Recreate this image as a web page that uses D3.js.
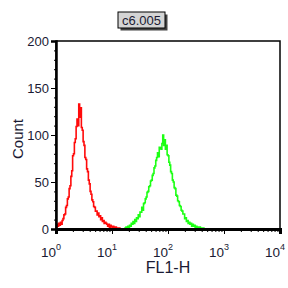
<!DOCTYPE html>
<html>
<head>
<meta charset="utf-8">
<script src="https://cdn.jsdelivr.net/npm/d3@7"></script>
<style>
  body { margin: 0; background: #fff; }
  svg { display: block; font-family: "Liberation Sans", Arial, sans-serif; }
</style>
</head>
<body>
<div id="chart"></div>
<script>

// Histogram data (256 channels over 4 decades)
var channelsPerDecade = 64;

var redStart = 0;
var redCounts = [2, 5, 3, 6, 4, 7, 5, 9, 11, 15, 16, 23, 25, 32, 34, 43, 46, 56, 62, 78,
  80, 92, 96, 109, 117, 110, 133, 119, 129, 108, 105, 93, 89, 76, 74, 64, 61, 52, 48, 40,
  37, 31, 29, 24, 23, 19, 19, 15, 17, 13, 14, 10, 12, 8, 9, 6, 7, 6, 5, 3,
  5, 2, 4, 3, 1, 3, 2, 1, 2, 0, 1, 0, 1, 0];

var greenStart = 78;
var greenCounts = [1, 0, 2, 1, 3, 1, 4, 3, 6, 5, 8, 6, 10, 8, 12, 11, 15, 13, 18, 18,
  23, 20, 27, 28, 32, 34, 39, 40, 45, 46, 51, 52, 57, 59, 65, 67, 73, 76, 81, 77,
  87, 86, 85, 91, 100, 89, 95, 85, 89, 79, 78, 71, 68, 61, 59, 52, 50, 44, 43, 36,
  35, 30, 29, 25, 24, 20, 19, 16, 16, 11, 12, 8, 9, 6, 7, 5, 6, 3, 5, 3,
  4, 2, 3, 2, 2, 1, 2, 0, 1, 0, 1, 0, 1];

var yTicks = [0, 50, 100, 150, 200];
var xTicks = [1, 10, 100, 1000, 10000];
var xTickExp = ["0", "1", "2", "3", "4"];

var title = "c6.005";
var xLabel = "FL1-H";
var yLabel = "Count";

var W = 288, H = 288;
var margin = {top: 41, right: 8, bottom: 59, left: 56};
var width = W - margin.left - margin.right;
var height = H - margin.top - margin.bottom;

var svg = d3.select("#chart").append("svg")
  .attr("width", W)
  .attr("height", H);

var g = svg.append("g")
  .attr("transform", "translate(" + margin.left + "," + margin.top + ")");

var x = d3.scaleLog().domain([1, 10000]).range([0, width]);
var y = d3.scaleLinear().domain([0, 200]).range([height, 0]);

function toPoints(start, counts){
  return counts.map(function(c, i){
    return {v: Math.pow(10, (start + i) / channelsPerDecade), c: c};
  });
}

var line = d3.line()
  .x(function(d){ return x(d.v); })
  .y(function(d){ return y(d.c); })
  .curve(d3.curveStepAfter);

g.append("path")
  .datum(toPoints(greenStart, greenCounts))
  .attr("fill", "none")
  .attr("stroke", "#1cff14")
  .attr("stroke-width", 1.6)
  .attr("d", line);

g.append("path")
  .datum(toPoints(redStart, redCounts))
  .attr("fill", "none")
  .attr("stroke", "#ff0a0a")
  .attr("stroke-width", 1.6)
  .attr("d", line);

// frame
g.append("rect")
  .attr("x", 0).attr("y", 0)
  .attr("width", width).attr("height", height)
  .attr("fill", "none")
  .attr("stroke", "#000")
  .attr("stroke-width", 1.5);

// minor y ticks
var yMinor = d3.range(0, 201, 10);
g.append("g")
  .call(d3.axisLeft(y).tickValues(yMinor).tickSize(2).tickFormat(""))
  .call(function(s){ s.select(".domain").remove(); });

// y axis
var yAxis = g.append("g")
  .call(d3.axisLeft(y).tickValues(yTicks).tickSize(5).tickPadding(2));
yAxis.select(".domain").attr("stroke-width", 2.5);
yAxis.selectAll("text")
  .attr("font-size", 13)
  .attr("fill", "#1a1a33")
  .attr("font-family", "Liberation Sans, Arial, sans-serif");

// minor x ticks
var xMinor = [];
xTicks.slice(0, 4).forEach(function(t){
  for (var k = 2; k < 10; k++) xMinor.push(t * k);
});
g.append("g")
  .attr("transform", "translate(0," + height + ")")
  .call(d3.axisBottom(x).tickValues(xMinor).tickSize(3).tickFormat(""))
  .call(function(s){ s.select(".domain").remove(); });

var xAxis = g.append("g")
  .attr("transform", "translate(0," + height + ")")
  .call(d3.axisBottom(x).tickValues(xTicks).tickSize(5).tickFormat(""));
xAxis.select(".domain").attr("stroke-width", 3);

// x tick labels with superscripts
xTicks.forEach(function(t, i){
  var lab = g.append("text")
    .attr("x", x(t) - 5)
    .attr("y", height + 28)
    .attr("text-anchor", "middle")
    .attr("font-size", 13.5)
    .attr("fill", "#1a1a33");
  lab.append("tspan").text("10");
  lab.append("tspan")
    .attr("font-size", 9)
    .attr("dy", -7)
    .text(xTickExp[i]);
});

// axis titles
svg.append("text")
  .attr("x", margin.left + width / 2)
  .attr("y", 273)
  .attr("text-anchor", "middle")
  .attr("font-size", 16)
  .attr("fill", "#1a1a33")
  .text(xLabel);

svg.append("text")
  .attr("transform", "translate(23,139) rotate(-90)")
  .attr("text-anchor", "middle")
  .attr("font-size", 15)
  .attr("fill", "#1a1a33")
  .text(yLabel);

// title box with shadow
var tb = svg.append("g").attr("transform", "translate(118,12)");
tb.append("rect")
  .attr("x", 2.5).attr("y", 2.5)
  .attr("width", 47).attr("height", 16)
  .attr("fill", "#444");
tb.append("rect")
  .attr("x", 0).attr("y", 0)
  .attr("width", 47).attr("height", 16)
  .attr("fill", "#d4d4d4")
  .attr("stroke", "#000")
  .attr("stroke-width", 1);
tb.append("text")
  .attr("x", 23.5).attr("y", 12.5)
  .attr("text-anchor", "middle")
  .attr("font-size", 13)
  .attr("fill", "#1a1a33")
  .text(title);

</script>
</body>
</html>
